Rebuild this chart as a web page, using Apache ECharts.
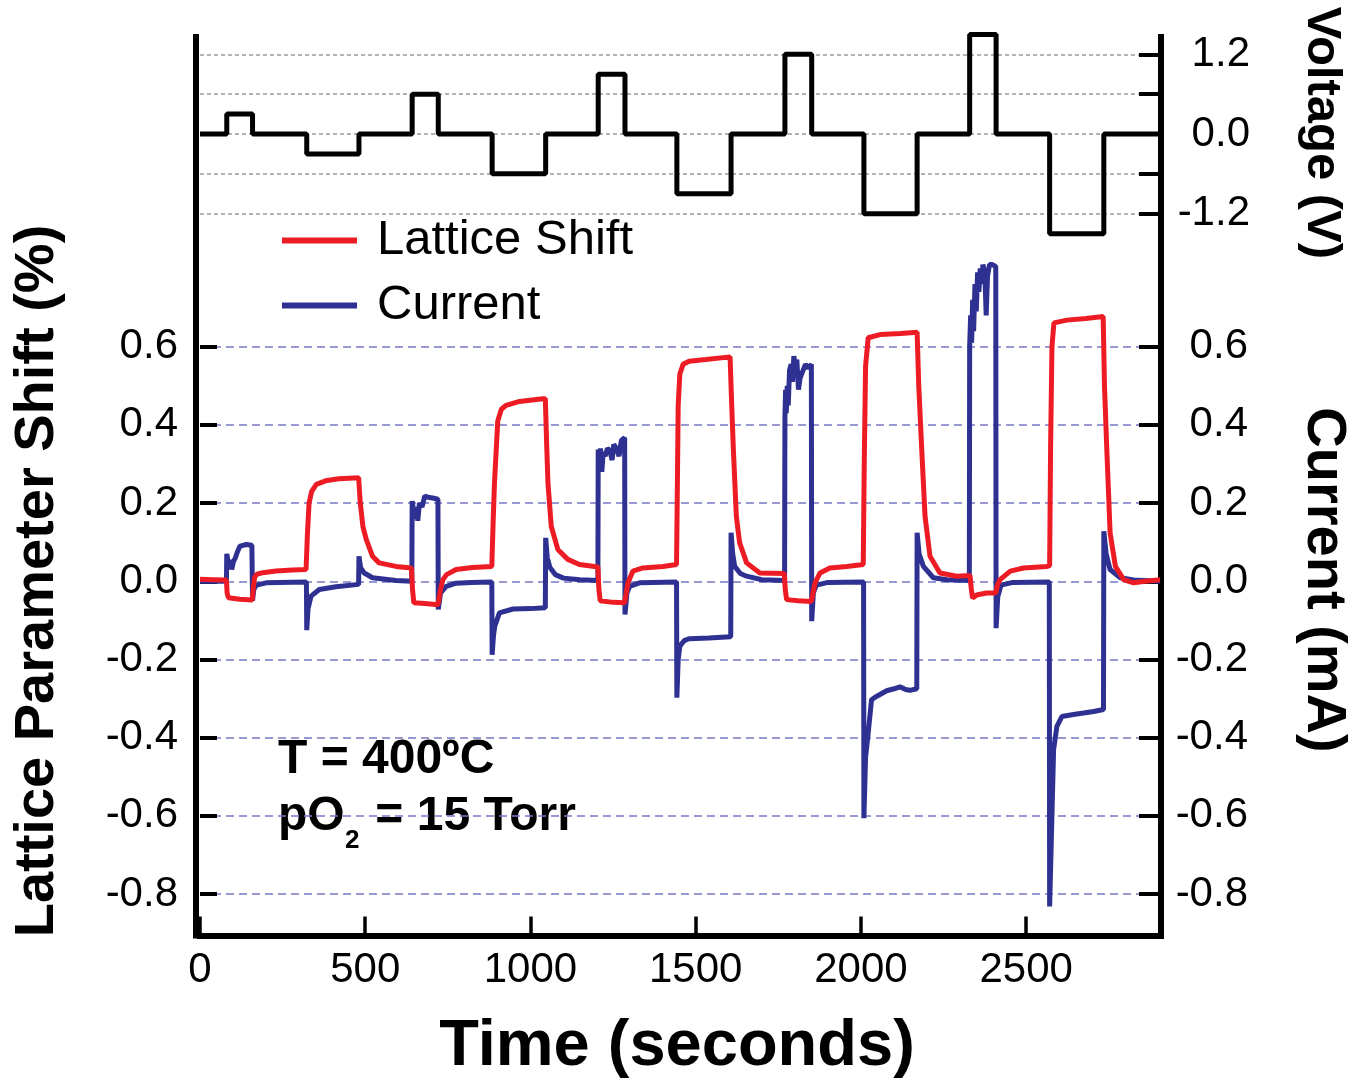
<!DOCTYPE html>
<html>
<head>
<meta charset="utf-8">
<script src="https://cdn.jsdelivr.net/npm/echarts@6/dist/echarts.min.js"></script>
<style>
html,body{margin:0;padding:0;background:#fff;}
#chart{width:1350px;height:1081px;}
</style>
</head>
<body>
<div id="chart"></div>
<script>
// ---------- data (time in seconds) ----------
const voltage = [[0,0],[81,0],[81,0.3],[159,0.3],[159,0],[323,0],[323,-0.3],[481,-0.3],[481,0],[642,0],[642,0.6],[721,0.6],[721,0],[884,0],[884,-0.6],[1046,-0.6],[1046,0],[1205,0],[1205,0.9],[1286,0.9],[1286,0],[1443,0],[1443,-0.9],[1607,-0.9],[1607,0],[1770,0],[1770,1.2],[1851,1.2],[1851,0],[2009,0],[2009,-1.2],[2170,-1.2],[2170,0],[2329,0],[2329,1.5],[2409,1.5],[2409,0],[2571,0],[2571,-1.5],[2735,-1.5],[2735,0],[2908,0]];

const latticeShift = [[0,0.005],[40,0.004],[80,0.003],[82,-0.03],[86,-0.042],[120,-0.046],[158,-0.048],[161,-0.02],[165,0.01],[172,0.018],[190,0.022],[230,0.026],[280,0.029],[321,0.03],[325,0.12],[330,0.2],[338,0.23],[352,0.248],[380,0.257],[420,0.262],[480,0.265],[485,0.2],[493,0.14],[503,0.107],[522,0.064],[542,0.047],[593,0.038],[640,0.034],[643,-0.02],[647,-0.055],[680,-0.057],[720,-0.06],[728,-0.02],[735,0.004],[746,0.017],[775,0.03],[824,0.035],[883,0.038],[887,0.15],[891,0.25],[901,0.41],[912,0.44],[926,0.45],[967,0.46],[1037,0.467],[1045,0.467],[1049,0.35],[1053,0.25],[1063,0.14],[1083,0.081],[1113,0.056],[1148,0.043],[1194,0.038],[1204,0.037],[1207,-0.02],[1211,-0.05],[1250,-0.054],[1285,-0.055],[1290,-0.03],[1295,-0.004],[1310,0.026],[1340,0.034],[1401,0.038],[1442,0.043],[1444,0.2],[1447,0.45],[1452,0.53],[1462,0.555],[1480,0.563],[1530,0.567],[1604,0.574],[1609,0.45],[1614,0.337],[1623,0.166],[1633,0.098],[1654,0.047],[1694,0.021],[1768,0.02],[1771,-0.02],[1775,-0.047],[1810,-0.05],[1850,-0.052],[1855,-0.03],[1861,-0.004],[1876,0.021],[1906,0.034],[1957,0.038],[2007,0.043],[2010,0.3],[2014,0.55],[2022,0.623],[2058,0.631],[2120,0.634],[2170,0.637],[2175,0.5],[2184,0.337],[2194,0.166],[2209,0.064],[2239,0.021],[2290,0.013],[2330,0.015],[2334,-0.02],[2338,-0.043],[2350,-0.035],[2380,-0.03],[2408,-0.03],[2413,-0.01],[2421,0.004],[2452,0.026],[2492,0.034],[2563,0.038],[2571,0.04],[2574,0.35],[2578,0.6],[2584,0.661],[2623,0.668],[2680,0.672],[2733,0.677],[2737,0.5],[2744,0.337],[2754,0.124],[2770,0.038],[2795,0.004],[2825,-0.004],[2860,0.0],[2905,0.004]];

const current = [[0,0],[80,0],[81,0.07],[85,0.07],[88,0.035],[92,0.055],[96,0.03],[101,0.05],[107,0.06],[113,0.075],[121,0.09],[140,0.094],[157,0.092],[159,-0.05],[163,-0.02],[171,-0.01],[200,-0.004],[322,-0.002],[323,-0.125],[327,-0.07],[336,-0.038],[361,-0.021],[411,-0.014],[480,-0.008],[481,0.064],[486,0.035],[497,0.021],[522,0.009],[593,0.002],[641,0],[642,0.205],[646,0.2],[650,0.16],[654,0.19],[659,0.155],[664,0.2],[672,0.19],[680,0.218],[690,0.215],[704,0.213],[720,0.21],[721,-0.072],[728,-0.03],[745,-0.013],[775,-0.005],[820,-0.003],[883,-0.002],[884,-0.188],[888,-0.14],[892,-0.115],[906,-0.081],[947,-0.071],[1000,-0.07],[1045,-0.068],[1046,0.111],[1051,0.06],[1059,0.035],[1075,0.017],[1100,0.008],[1150,0.004],[1204,0.002],[1205,0.337],[1209,0.3],[1212,0.34],[1216,0.28],[1220,0.33],[1226,0.32],[1233,0.34],[1240,0.335],[1247,0.31],[1252,0.35],[1260,0.34],[1268,0.32],[1275,0.36],[1285,0.367],[1286,-0.085],[1292,-0.03],[1300,-0.013],[1330,-0.004],[1442,-0.002],[1443,-0.298],[1447,-0.2],[1452,-0.166],[1465,-0.152],[1480,-0.147],[1540,-0.145],[1606,-0.142],[1607,0.124],[1612,0.07],[1618,0.038],[1635,0.02],[1654,0.013],[1700,0.004],[1769,0.002],[1770,0.42],[1772,0.49],[1774,0.43],[1777,0.5],[1780,0.45],[1784,0.54],[1789,0.555],[1793,0.51],[1797,0.576],[1801,0.55],[1806,0.567],[1811,0.49],[1816,0.52],[1822,0.533],[1832,0.555],[1841,0.545],[1850,0.555],[1851,-0.102],[1856,-0.03],[1865,-0.01],[1900,-0.003],[2008,-0.002],[2009,-0.606],[2014,-0.45],[2022,-0.388],[2032,-0.303],[2048,-0.294],[2078,-0.28],[2100,-0.275],[2118,-0.27],[2135,-0.277],[2148,-0.279],[2169,-0.275],[2170,0.124],[2176,0.07],[2189,0.038],[2219,0.009],[2260,0.004],[2328,0.002],[2329,0.6],[2332,0.68],[2335,0.61],[2338,0.72],[2341,0.64],[2345,0.76],[2349,0.69],[2353,0.79],[2357,0.74],[2361,0.8],[2365,0.76],[2369,0.81],[2375,0.79],[2379,0.68],[2383,0.78],[2389,0.81],[2398,0.81],[2408,0.805],[2409,-0.12],[2414,-0.04],[2424,-0.01],[2460,-0.003],[2570,-0.002],[2571,-0.832],[2583,-0.431],[2593,-0.371],[2608,-0.346],[2643,-0.341],[2674,-0.337],[2704,-0.333],[2734,-0.328],[2735,0.128],[2742,0.07],[2754,0.03],[2785,0.009],[2825,0.003],[2905,0]];

const timeRange = [0, 2908];
const voltageRange = [-1.2, 1.2];
const lowerRange = [-0.8, 0.6];
const seriesNames = ['Lattice Shift', 'Current'];

// ---------- layout / style ----------
const FONT = "'Liberation Sans', Arial, Helvetica, sans-serif";
const RED = '#ED1C24', BLUE = '#2E3192';
const fmt1 = v => (Math.abs(v) < 1e-9 ? '0.0' : v.toFixed(1));

const hiddenX = (gi) => ({type:'value', gridIndex:gi, min:timeRange[0], max:timeRange[1], show:false,
  axisLine:{onZero:false}});
const frameLine = {show:true, onZero:false, lineStyle:{color:'#000', width:6, cap:'square'}};
const noLine = {show:false, onZero:false};

const chart = echarts.init(document.getElementById('chart'), null, {renderer:'canvas'});
chart.setOption({
  animation:false,
  backgroundColor:'#fff',
  grid:[
    {left:200, right:189, top:54.3, height:159.4},
    {left:200, right:189, top:346.7, height:547.3},
    {left:200, right:189, top:37, bottom:145.5}
  ],
  xAxis:[
    hiddenX(0),
    hiddenX(1),
    {type:'value', gridIndex:2, min:timeRange[0], max:timeRange[1], interval:500,
     axisLine:frameLine,
     axisTick:{show:true, inside:true, length:19, lineStyle:{color:'#000', width:3.5}},
     axisLabel:{show:true, fontSize:42, fontFamily:FONT, color:'#000', margin:14,
       formatter:v => (v % 500 === 0 ? String(v) : '')},
     splitLine:{show:false}}
  ],
  yAxis:[
    {type:'value', gridIndex:0, position:'right', min:voltageRange[0], max:voltageRange[1], interval:0.6,
     axisLine:noLine,
     axisTick:{show:true, inside:true, length:22, lineStyle:{color:'#000', width:4}},
     axisLabel:{show:true, fontSize:42, fontFamily:FONT, color:'#000', align:'right', margin:89,
       formatter:v => (Math.abs(Math.abs(v) - 0.6) < 0.01 ? '' : fmt1(v))},
     splitLine:{show:true, lineStyle:{color:'#9a9a9a', width:1.5, type:[4,3]}}},
    {type:'value', gridIndex:1, position:'left', min:lowerRange[0], max:lowerRange[1], interval:0.2,
     axisLine:noLine,
     axisTick:{show:true, inside:true, length:17, lineStyle:{color:'#000', width:4}},
     axisLabel:{show:true, fontSize:42, fontFamily:FONT, color:'#000', margin:22, formatter:fmt1},
     splitLine:{show:true, lineStyle:{color:'#7777c4', width:1.5, type:[8,5]}}},
    {type:'value', gridIndex:1, position:'right', min:lowerRange[0], max:lowerRange[1], interval:0.2,
     axisLine:noLine,
     axisTick:{show:true, inside:true, length:22, lineStyle:{color:'#000', width:4}},
     axisLabel:{show:true, fontSize:42, fontFamily:FONT, color:'#000', align:'right', margin:87, formatter:fmt1},
     splitLine:{show:false}},
    {type:'value', gridIndex:2, position:'left', offset:4, min:0, max:1,
     axisLine:frameLine, axisTick:{show:false}, axisLabel:{show:false}, splitLine:{show:false}},
    {type:'value', gridIndex:2, position:'right', min:0, max:1,
     axisLine:frameLine, axisTick:{show:false}, axisLabel:{show:false}, splitLine:{show:false}}
  ],
  legend:{
    data:seriesNames, orient:'vertical', left:282, top:216, padding:0, itemWidth:75, itemHeight:6, itemGap:16,
    icon:'rect', selectedMode:false,
    textStyle:{fontSize:49, fontFamily:FONT, color:'#000', padding:[0,0,0,15]}
  },
  series:[
    {name:'Voltage', type:'line', xAxisIndex:0, yAxisIndex:0, data:voltage, symbol:'none', clip:false,
     lineStyle:{color:'#000', width:5}, itemStyle:{color:'#000'}, z:3},
    {name:seriesNames[1], type:'line', xAxisIndex:1, yAxisIndex:2, data:current, symbol:'none', clip:false,
     lineStyle:{color:BLUE, width:5}, itemStyle:{color:BLUE}, z:3},
    {name:seriesNames[0], type:'line', xAxisIndex:1, yAxisIndex:1, data:latticeShift, symbol:'none', clip:false,
     lineStyle:{color:RED, width:5}, itemStyle:{color:RED}, z:4}
  ],
  graphic:[
    {type:'text', x:38, y:581, rotation:Math.PI/2,
     style:{text:'Lattice Parameter Shift (%)', fontSize:56, fontWeight:'bold', fontFamily:FONT, fill:'#000', align:'center', verticalAlign:'middle'}},
    {type:'text', x:1323, y:580, rotation:-Math.PI/2,
     style:{text:'Current (mA)', fontSize:56, fontWeight:'bold', fontFamily:FONT, fill:'#000', align:'center', verticalAlign:'middle'}},
    {type:'text', x:1322, y:133, rotation:-Math.PI/2,
     style:{text:'Voltage (V)', fontSize:49, fontWeight:'bold', fontFamily:FONT, fill:'#000', align:'center', verticalAlign:'middle'}},
    {type:'text', x:677, y:1047,
     style:{text:'Time (seconds)', fontSize:65, fontWeight:'bold', fontFamily:FONT, fill:'#000', align:'center', verticalAlign:'middle'}},
    {type:'text', x:278, y:760,
     style:{text:'T = 400ºC', fontSize:48, fontWeight:'bold', fontFamily:FONT, fill:'#000', align:'left', verticalAlign:'middle'}},
    {type:'text', x:278, y:817,
     style:{text:'pO', fontSize:48, fontWeight:'bold', fontFamily:FONT, fill:'#000', align:'left', verticalAlign:'middle'}},
    {type:'text', x:345, y:841,
     style:{text:'2', fontSize:26, fontWeight:'bold', fontFamily:FONT, fill:'#000', align:'left', verticalAlign:'middle'}},
    {type:'text', x:362, y:817,
     style:{text:' = 15 Torr', fontSize:48, fontWeight:'bold', fontFamily:FONT, fill:'#000', align:'left', verticalAlign:'middle'}}
  ]
});
</script>
</body>
</html>
